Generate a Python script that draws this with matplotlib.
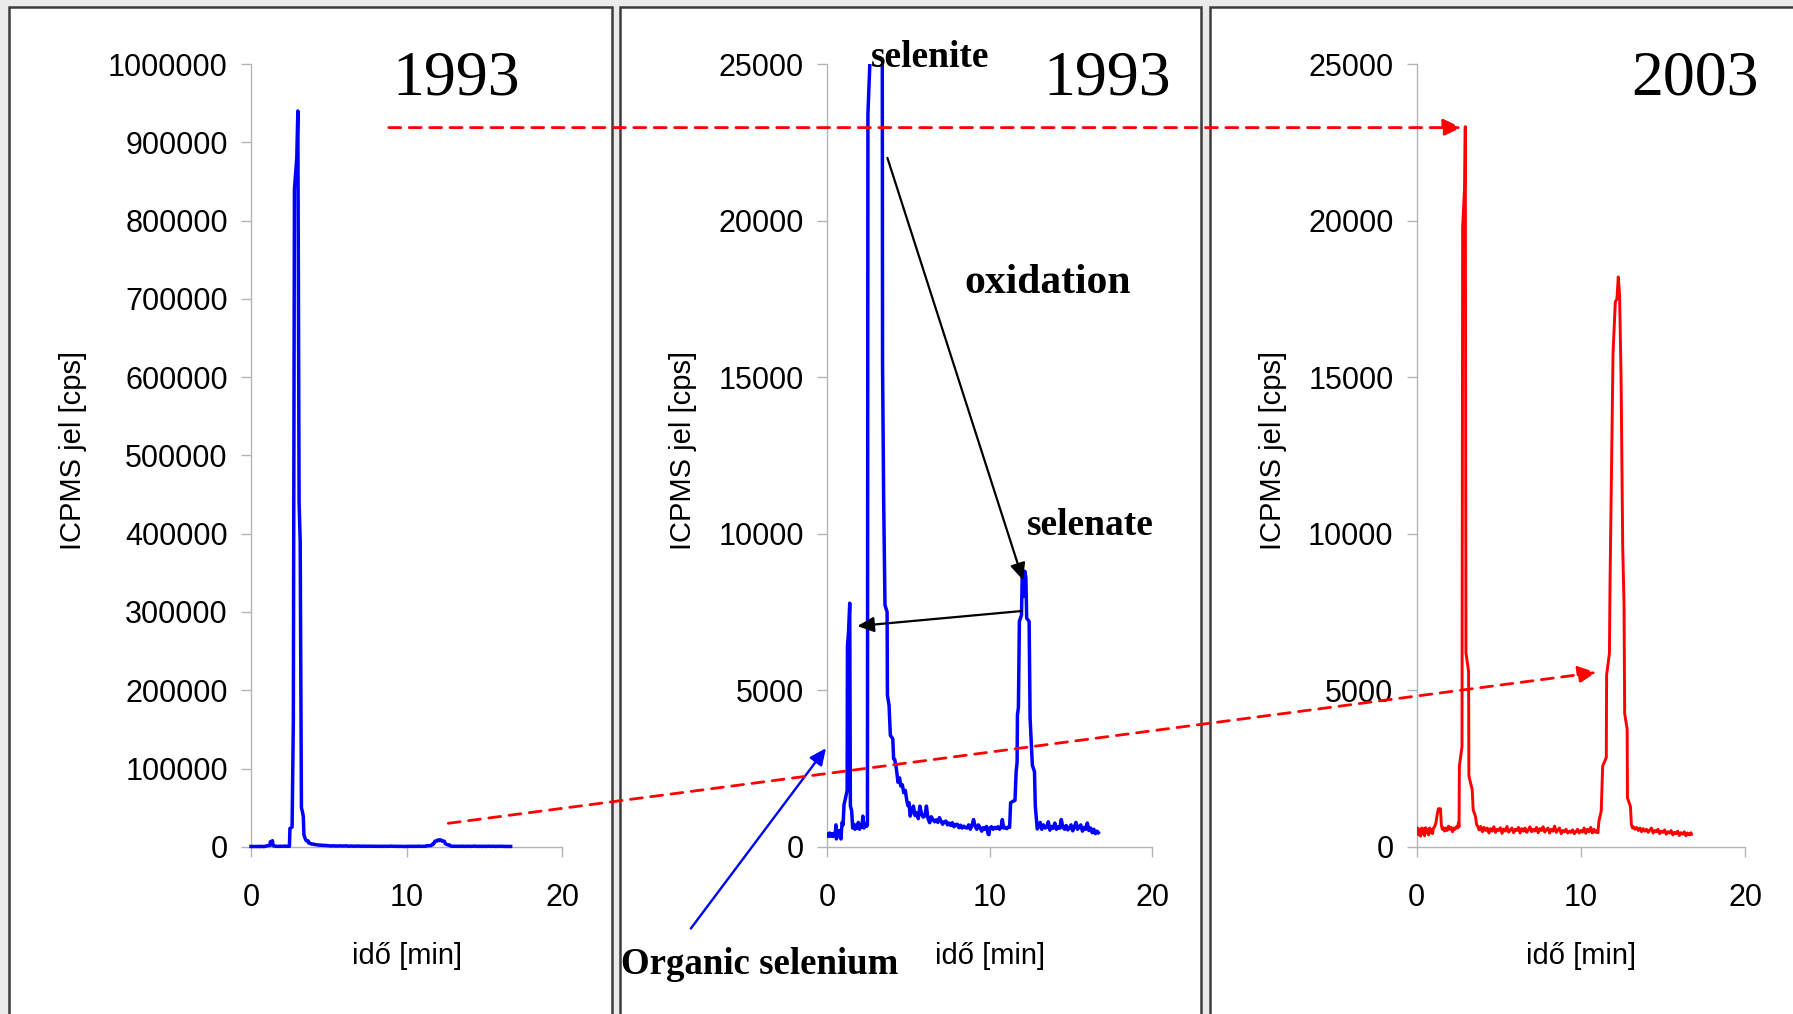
import matplotlib
matplotlib.use("Agg")
import matplotlib.pyplot as plt
from matplotlib.patches import Rectangle, FancyArrowPatch

plt.rcParams['font.family'] = ['Liberation Sans', 'DejaVu Sans']

# ---------------------------------------------------------------- data
# 1993 chromatogram (ICP-MS signal, cps) vs retention time (min)
t_1993 = [0.00, 0.07, 0.14, 0.21, 0.28, 0.35, 0.42, 0.49, 0.53, 0.56, 0.63, 0.70,
          0.77, 0.84, 0.91, 0.97, 1.03, 1.12, 1.22, 1.24, 1.31, 1.38, 1.42, 1.50,
          1.56, 1.63, 1.70, 1.77, 1.84, 1.91, 1.98, 2.05, 2.12, 2.19, 2.26, 2.33,
          2.42, 2.47, 2.50, 2.64, 2.72, 2.79, 2.94, 3.01, 3.09, 3.16, 3.24, 3.30,
          3.36, 3.40, 3.47, 3.55, 3.68, 3.70, 3.80, 3.88, 4.03, 4.08, 4.15, 4.25,
          4.35, 4.45, 4.52, 4.62, 4.70, 4.80, 4.90, 4.97, 5.03, 5.10, 5.20, 5.30,
          5.40, 5.50, 5.60, 5.70, 5.80, 5.90, 6.00, 6.10, 6.20, 6.30, 6.40, 6.50,
          6.60, 6.70, 6.80, 6.90, 7.00, 7.10, 7.20, 7.30, 7.40, 7.50, 7.60, 7.70,
          7.80, 7.90, 8.00, 8.10, 8.20, 8.30, 8.40, 8.50, 8.60, 8.70, 8.80, 8.90,
          9.00, 9.10, 9.20, 9.30, 9.40, 9.50, 9.60, 9.70, 9.80, 9.90, 9.95, 10.00,
          10.10, 10.20, 10.30, 10.40, 10.50, 10.60, 10.70, 10.77, 10.85, 10.95, 11.05, 11.15,
          11.22, 11.28, 11.40, 11.55, 11.62, 11.68, 11.70, 11.76, 11.82, 11.95, 12.00, 12.08,
          12.15, 12.22, 12.27, 12.42, 12.48, 12.62, 12.75, 12.80, 12.92, 13.00, 13.10, 13.20,
          13.30, 13.40, 13.50, 13.60, 13.70, 13.80, 13.90, 14.00, 14.10, 14.20, 14.30, 14.40,
          14.50, 14.60, 14.70, 14.80, 14.90, 15.00, 15.10, 15.20, 15.30, 15.40, 15.50, 15.60,
          15.70, 15.80, 15.90, 16.00, 16.10, 16.20, 16.30, 16.40, 16.50, 16.60, 16.68]
cps_1993 = [400, 330, 440, 340, 420, 330, 430, 380, 700, 250, 420, 520,
            380, 250, 780, 700, 1350, 1550, 1800, 6400, 6900, 7780, 1310, 1150,
            600, 720, 560, 690, 600, 780, 560, 700, 620, 980, 600, 720,
            650, 700, 23400, 25300, 160000, 840000, 880000, 940000, 440000, 390000, 50000, 45000,
            39000, 15400, 11000, 7720, 7500, 4840, 4520, 3560, 3450, 2810, 2790, 2500,
            2060, 2200, 1940, 1980, 1730, 1800, 1450, 1310, 1410, 980, 1150, 1300,
            1000, 1090, 900, 1300, 1050, 950, 980, 1300, 900, 770, 960, 870,
            800, 860, 780, 930, 820, 720, 800, 820, 700, 760, 680, 770,
            640, 710, 720, 610, 690, 600, 660, 610, 600, 700, 560, 680,
            870, 660, 560, 700, 620, 500, 610, 560, 650, 400, 390, 600,
            640, 560, 620, 580, 640, 560, 650, 870, 600, 620, 580, 640,
            620, 1400, 1450, 1480, 2400, 2700, 4200, 4450, 7200, 7400, 8800, 8000,
            8800, 8600, 7300, 7200, 4100, 2600, 2400, 1300, 570, 640, 780, 560,
            700, 600, 620, 800, 530, 650, 590, 760, 560, 640, 590, 870,
            620, 560, 680, 540, 600, 700, 510, 620, 780, 560, 640, 700,
            500, 620, 560, 760, 520, 600, 450, 560, 420, 500, 450]

# 2003 chromatogram of the same sample
t_2003 = [0.00, 0.06, 0.12, 0.18, 0.24, 0.30, 0.36, 0.42, 0.48, 0.54, 0.60, 0.66,
          0.72, 0.78, 0.84, 0.90, 0.96, 1.02, 1.10, 1.17, 1.25, 1.32, 1.45, 1.50,
          1.56, 1.62, 1.70, 1.78, 1.86, 1.94, 2.02, 2.10, 2.18, 2.26, 2.34, 2.42,
          2.50, 2.54, 2.58, 2.60, 2.76, 2.80, 2.92, 2.96, 3.00, 3.16, 3.18, 3.38,
          3.44, 3.58, 3.65, 3.70, 3.80, 3.90, 4.00, 4.10, 4.20, 4.30, 4.40, 4.50,
          4.60, 4.70, 4.80, 4.90, 5.00, 5.10, 5.20, 5.30, 5.40, 5.50, 5.60, 5.70,
          5.80, 5.90, 6.00, 6.10, 6.20, 6.30, 6.40, 6.50, 6.60, 6.70, 6.80, 6.90,
          7.00, 7.10, 7.20, 7.30, 7.40, 7.50, 7.60, 7.70, 7.80, 7.90, 8.00, 8.10,
          8.20, 8.30, 8.40, 8.50, 8.60, 8.70, 8.80, 8.90, 9.00, 9.10, 9.20, 9.30,
          9.40, 9.50, 9.60, 9.70, 9.80, 9.90, 10.00, 10.10, 10.20, 10.30, 10.40, 10.50,
          10.60, 10.70, 10.80, 10.90, 11.00, 11.04, 11.10, 11.24, 11.33, 11.55, 11.57, 11.74,
          11.78, 11.96, 12.10, 12.20, 12.28, 12.36, 12.45, 12.55, 12.63, 12.67, 12.82, 12.84,
          13.02, 13.08, 13.15, 13.20, 13.30, 13.40, 13.50, 13.60, 13.70, 13.80, 13.90, 14.00,
          14.10, 14.20, 14.30, 14.40, 14.50, 14.60, 14.70, 14.80, 14.90, 15.00, 15.10, 15.20,
          15.30, 15.40, 15.50, 15.60, 15.70, 15.80, 15.90, 16.00, 16.10, 16.20, 16.30, 16.40,
          16.50, 16.60, 16.70, 16.74]
cps_2003 = [450, 600, 380, 560, 340, 600, 420, 580, 350, 610, 470, 560,
            380, 600, 450, 550, 420, 600, 650, 770, 1030, 1215, 1215, 700,
            560, 610, 500, 600, 520, 660, 560, 620, 480, 600, 560, 640,
            600, 770, 645, 2580, 3200, 19800, 21100, 23000, 6200, 5600, 2260, 1830,
            1180, 970, 700, 680, 540, 650, 480, 620, 520, 600, 440, 580,
            500, 640, 460, 560, 520, 610, 430, 570, 500, 650, 470, 540,
            600, 450, 560, 520, 620, 440, 580, 500, 600, 460, 540, 640,
            480, 560, 500, 620, 450, 580, 520, 640, 470, 550, 600, 440,
            560, 500, 660, 460, 540, 600, 420, 520, 480, 560, 440, 500,
            460, 540, 420, 480, 560, 440, 520, 470, 600, 430, 560, 480,
            620, 440, 560, 460, 520, 450, 820, 1140, 2580, 2850, 5480, 6180,
            8500, 15750, 17400, 17500, 18200, 17600, 15000, 9600, 7740, 4250, 3760, 1560,
            1290, 700, 600, 640, 560, 620, 520, 600, 480, 580, 500, 560,
            460, 540, 600, 440, 520, 480, 560, 420, 500, 460, 540, 400,
            480, 440, 520, 380, 460, 420, 500, 360, 450, 400, 480, 350,
            440, 380, 450, 400]

x_ticks = [0, 10, 20]
y_ticks_full = [0, 100000, 200000, 300000, 400000, 500000, 600000, 700000, 800000, 900000, 1000000]
y_ticks_zoom = [0, 5000, 10000, 15000, 20000, 25000]
years = ["1993", "1993", "2003"]

# ---------------------------------------------------------------- layout
W, H = 1793, 1014
fig = plt.figure(figsize=(W / 100, H / 100), dpi=100, facecolor='#ebebeb')


def fx(px):
    return px / W


def fy(py):
    return 1 - py / H


# white slide panels with dark frames
for x0, x1 in [(8.5, 612), (620, 1201), (1210, 1805)]:
    fig.add_artist(Rectangle((fx(x0), fy(1040)), fx(x1) - fx(x0), fy(7) - fy(1040),
                             transform=fig.transFigure, facecolor='white',
                             edgecolor='#3c3c3c', linewidth=1.8, zorder=-10))

axis_grey = '#b4b4b4'
bottom, top = 846.8, 64.0
boxes = [(251.0, 562.3), (827.3, 1152.3), (1416.7, 1745.0)]
axes = []
for (l, r) in boxes:
    ax = fig.add_axes([fx(l), fy(bottom), fx(r) - fx(l), fy(top) - fy(bottom)])
    ax.set_facecolor('none')
    for s in ('top', 'right'):
        ax.spines[s].set_visible(False)
    for s in ('left', 'bottom'):
        ax.spines[s].set_color(axis_grey)
        ax.spines[s].set_linewidth(1.0)
    ax.set_xlim(0, 20)
    ax.set_xticks(x_ticks)
    ax.set_xticklabels([str(v) for v in x_ticks])
    ax.tick_params(axis='both', direction='out', length=7.2, width=1.0,
                   color=axis_grey, labelsize=22)
    ax.tick_params(axis='x', pad=19)
    ax.tick_params(axis='y', pad=9.5)
    axes.append(ax)

ax1, ax2, ax3 = axes
ax1.set_ylim(0, 1000000)
ax1.set_yticks(y_ticks_full)
ax1.set_yticklabels([str(v) for v in y_ticks_full])
for ax in (ax2, ax3):
    ax.set_ylim(0, 25000)
    ax.set_yticks(y_ticks_zoom)
    ax.set_yticklabels([str(v) for v in y_ticks_zoom])

ax1.plot(t_1993, cps_1993, color='#0000ff', lw=2.5, solid_joinstyle='round',
         clip_on=False, zorder=3)
ax2.plot(t_1993, cps_1993, color='#0000ff', lw=2.5, solid_joinstyle='round', zorder=3)
ax3.plot(t_2003, cps_2003, color='#ff0000', lw=2.1, solid_joinstyle='round', zorder=3)

# axis titles
for xc, ylab_x in [(406.6, 73), (989.8, 682.7), (1580.9, 1272.7)]:
    fig.text(fx(xc), fy(956), 'idő [min]', ha='center', va='center', fontsize=21)
    fig.text(fx(ylab_x), fy(450), 'ICPMS jel [cps]', ha='center', va='center',
             rotation=90, fontsize=21)

# year stamps
for xc, yr in zip([455.7, 1107.0, 1694.9], years):
    fig.text(fx(xc), fy(94.3), yr, ha='center', va='baseline',
             family='Liberation Serif', fontsize=46)

# species labels
serif_bold = dict(family='Liberation Serif', fontweight='bold', ha='center', va='baseline')
fig.text(fx(930.2), fy(66.5), 'selenite', fontsize=27, **serif_bold)
fig.text(fx(1047.4), fy(293), 'oxidation', fontsize=30, **serif_bold)
fig.text(fx(1090.0), fy(535), 'selenate', fontsize=27, **serif_bold)
fig.text(fx(759.2), fy(974), 'Organic selenium', fontsize=26.6, **serif_bold)

# black arrows: selenite -> selenate (oxidation), selenate -> organic Se
black = dict(arrowstyle='-|>,head_length=10,head_width=4.6', color='black', lw=1.6,
             shrinkA=0, shrinkB=0, mutation_scale=1)
ax2.annotate('', xy=(12.04, 8520), xytext=(3.70, 22000), arrowprops=black,
             annotation_clip=False)
ax2.annotate('', xy=(1.85, 7050), xytext=(11.96, 7530), arrowprops=black,
             annotation_clip=False)
# blue pointer from the organic selenium label
ax2.annotate('', xy=(-0.08, 3150), xytext=(-8.4, -2610),
             arrowprops=dict(arrowstyle='-|>,head_length=10,head_width=4.6',
                             color='#0000ff', lw=1.7, shrinkA=0, shrinkB=0,
                             mutation_scale=1),
             annotation_clip=False)

# red dashed arrows linking the 1993 and 2003 runs
for (xa, ya), (xb, yb) in [((388.8, 127.6), (1461.4, 127.6)),
                           ((448.3, 823.3), (1596.4, 672.4))]:
    fig.add_artist(FancyArrowPatch((fx(xa), fy(ya)), (fx(xb), fy(yb)),
                                   transform=fig.transFigure,
                                   arrowstyle='-|>,head_length=11,head_width=5.2',
                                   mutation_scale=1, color='#ff0000', lw=2.0,
                                   linestyle=(0, (4.3, 3.05)), shrinkA=0, shrinkB=0,
                                   zorder=10))

fig.savefig('out.png', dpi=100, facecolor=fig.get_facecolor())
